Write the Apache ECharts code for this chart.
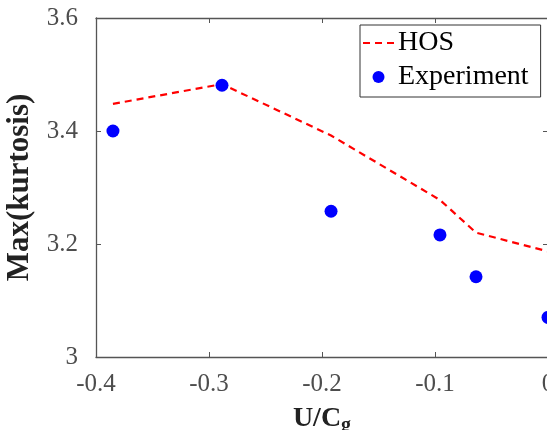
<!DOCTYPE html>
<html>
<head>
<meta charset="utf-8">
<script src="https://cdn.jsdelivr.net/npm/echarts@6/dist/echarts.min.js"></script>
<style>html,body{margin:0;padding:0;background:#fff;}#c{width:547px;height:430px;}</style>
</head>
<body>
<div id="c"></div>
<script>
var xValues = [-0.385, -0.2885, -0.192, -0.0956, -0.0637, 0];
var hosValues = [3.448, 3.483, 3.392, 3.278, 3.220, 3.187];
var expValues = [3.400, 3.481, 3.258, 3.216, 3.142, 3.070];
var xTicks = [-0.4, -0.3, -0.2, -0.1, 0];
var yTicks = [3, 3.2, 3.4, 3.6];

var chart = echarts.init(document.getElementById('c'));
var serif = "'Liberation Serif', 'DejaVu Serif', serif";
var axisColor = '#555';
var labelColor = '#4d4d4d';
function pairs(xs, ys){ return xs.map(function(x,i){ return [x, ys[i]]; }); }

chart.setOption({
  animation: false,
  backgroundColor: '#fff',
  grid: { left: 96, top: 18, width: 452, height: 339, containLabel: false, outerBoundsMode: 'none' },
  legend: {
    orient: 'vertical',
    left: 360, top: 25,
    backgroundColor: '#fff',
    borderColor: '#333', borderWidth: 1,
    padding: [4, 12, 6, 2],
    itemGap: 6,
    itemWidth: 31, itemHeight: 12,
    textStyle: { fontFamily: serif, fontSize: 28, color: '#000', padding: [0,0,0,-1] },
    data: [{ name: 'HOS', itemStyle: { opacity: 0 } }, 'Experiment']
  },
  xAxis: [{
    type: 'value', min: -0.4, max: 0, interval: 0.1,
    position: 'bottom',
    axisLine: { show: true, onZero: false, lineStyle: { color: axisColor, width: 1.3 } },
    axisTick: { show: true, inside: true, length: 5, lineStyle: { color: axisColor } },
    splitLine: { show: false },
    axisLabel: { margin: 15, fontFamily: serif, fontSize: 25, color: labelColor,
      formatter: function(v){ var r = Math.round(v*10)/10; return xTicks.indexOf(r) >= 0 ? String(r) : ''; } },
    name: '{b|U/C}{s|g}',
    nameLocation: 'middle', nameGap: 45,
    nameTextStyle: { rich: {
      b: { fontFamily: serif, fontSize: 28, fontWeight: 'bold', color: '#222' },
      s: { fontFamily: serif, fontSize: 20, fontWeight: 'bold', color: '#222', padding: [14, 0, 0, 0] }
    } }
  }, {
    type: 'value', min: -0.4, max: 0, interval: 0.1,
    position: 'top',
    axisLine: { show: true, onZero: false, lineStyle: { color: axisColor, width: 1.3 } },
    axisTick: { show: true, inside: true, length: 5, lineStyle: { color: axisColor } },
    splitLine: { show: false },
    axisLabel: { show: false }
  }],
  yAxis: [{
    type: 'value', min: 3, max: 3.6, interval: 0.2,
    position: 'left',
    axisLine: { show: true, onZero: false, lineStyle: { color: axisColor, width: 1.3 } },
    axisTick: { show: true, inside: true, length: 5, lineStyle: { color: axisColor } },
    splitLine: { show: false },
    axisLabel: { margin: 18, fontFamily: serif, fontSize: 25, color: labelColor,
      formatter: function(v){ var r = Math.round(v*10)/10; return yTicks.indexOf(r) >= 0 ? String(r) : ''; } },
    name: 'Max(kurtosis)',
    nameLocation: 'middle', nameGap: 60,
    nameTextStyle: { fontFamily: serif, fontSize: 31, fontWeight: 'bold', color: '#222' }
  }, {
    type: 'value', min: 3, max: 3.6, interval: 0.2,
    position: 'right',
    axisLine: { show: true, onZero: false, lineStyle: { color: axisColor, width: 1.3 } },
    axisTick: { show: true, inside: true, length: 5, lineStyle: { color: axisColor } },
    splitLine: { show: false },
    axisLabel: { show: false }
  }],
  series: [{
    name: 'HOS', type: 'line', xAxisIndex: 0, yAxisIndex: 0,
    data: pairs(xValues, hosValues),
    symbol: 'none',
    lineStyle: { color: '#ff0000', width: 2.2, type: [7, 5] },
    itemStyle: { color: '#ff0000' },
    z: 2
  }, {
    name: 'Experiment', type: 'scatter', xAxisIndex: 0, yAxisIndex: 0,
    data: pairs(xValues, expValues),
    symbol: 'circle', symbolSize: 13,
    itemStyle: { color: '#0000ff', opacity: 1 },
    z: 3
  }]
});
</script>
</body>
</html>
